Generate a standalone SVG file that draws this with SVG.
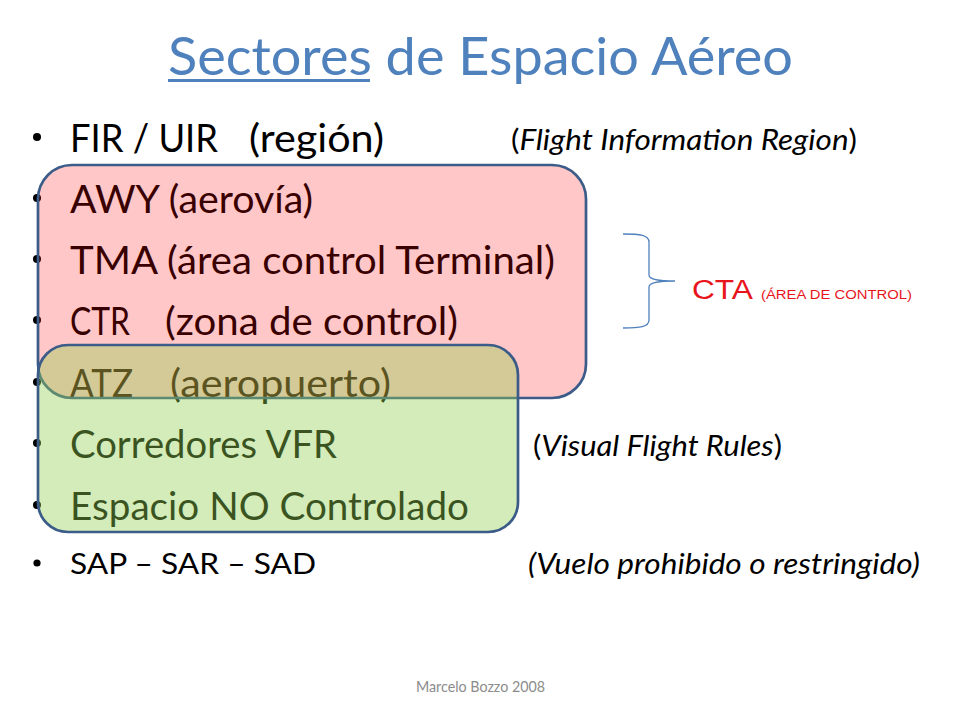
<svg xmlns="http://www.w3.org/2000/svg" width="960" height="720" viewBox="0 0 960 720">
<style>
.t{font-family:Lato,"Open Sans","Noto Sans",sans-serif;fill:#000}
.b{font-size:38px}
.s{font-size:29px}
.i{font-style:italic}
.ttl{font-family:Lato,"Open Sans","Noto Sans",sans-serif;font-size:53px;fill:#4F81BD}
.cta{font-family:"Liberation Sans",Arial,sans-serif;fill:#E8141B}
.box{stroke:#3B5C88;stroke-width:2.7}
.dot{fill:#000}
</style>
<rect width="960" height="720" fill="#FFFFFF"/>
<g id="title">
<text class="ttl" x="168" y="75" textLength="625" lengthAdjust="spacingAndGlyphs">Sectores de Espacio Aéreo</text>
<line x1="168" y1="80.5" x2="370" y2="80.5" stroke="#4F81BD" stroke-width="3"/>
</g>
<g id="bullets">
<circle class="dot" cx="37" cy="137" r="4"/>
<circle class="dot" cx="37" cy="198" r="4"/>
<circle class="dot" cx="37" cy="259" r="4"/>
<circle class="dot" cx="37" cy="320" r="4"/>
<circle class="dot" cx="37" cy="382" r="4"/>
<circle class="dot" cx="37" cy="443" r="4"/>
<circle class="dot" cx="37" cy="505" r="4"/>
<circle class="dot" cx="37" cy="563" r="3.6"/>
</g>
<g id="items">
<text class="t b" x="70" y="152" textLength="148" lengthAdjust="spacingAndGlyphs">FIR / UIR</text>
<text class="t b" x="249" y="152" textLength="135" lengthAdjust="spacingAndGlyphs">(región)</text>
<text class="t s" x="511" y="150" textLength="346" lengthAdjust="spacingAndGlyphs">(<tspan class="i">Flight Information Region</tspan>)</text>
<text class="t b" x="70" y="213" textLength="243" lengthAdjust="spacingAndGlyphs">AWY (aerovía)</text>
<text class="t b" x="70" y="274" textLength="485" lengthAdjust="spacingAndGlyphs">TMA (área control Terminal)</text>
<text class="t b" x="70" y="335" textLength="60" lengthAdjust="spacingAndGlyphs">CTR</text>
<text class="t b" x="165" y="335" textLength="293" lengthAdjust="spacingAndGlyphs">(zona de control)</text>
<text class="t b" x="70" y="397" textLength="63" lengthAdjust="spacingAndGlyphs">ATZ</text>
<text class="t b" x="170" y="397" textLength="221" lengthAdjust="spacingAndGlyphs">(aeropuerto)</text>
<text class="t b" x="70" y="458" textLength="267" lengthAdjust="spacingAndGlyphs">Corredores VFR</text>
<text class="t s" x="533" y="456" textLength="249" lengthAdjust="spacingAndGlyphs">(<tspan class="i">Visual Flight Rules</tspan>)</text>
<text class="t b" x="70" y="520" textLength="399" lengthAdjust="spacingAndGlyphs">Espacio NO Controlado</text>
<text class="t s" x="70" y="574" textLength="246" lengthAdjust="spacingAndGlyphs">SAP – SAR – SAD</text>
<text class="t s i" x="528" y="574" textLength="392" lengthAdjust="spacingAndGlyphs">(Vuelo prohibido o restringido)</text>
</g>
<g id="cta-zone">
<rect class="box" x="38" y="165" width="548" height="233" rx="34" ry="34" fill="#FF0000" fill-opacity="0.22"/>
</g>
<g id="uncontrolled-zone">
<rect class="box" x="38" y="345" width="480" height="187" rx="30" ry="30" fill="#92D050" fill-opacity="0.4"/>
</g>
<g id="connectors">
<path d="M623,234 C640,234 649,235 649,242 L649,275 C649,280 660,281 675,281 C660,281 649,282 649,287 L649,320 C649,327 640,328 623,328" fill="none" stroke="#4F81BD" stroke-width="1.3"/>
</g>
<g id="cta-label">
<text class="cta" x="692" y="299" font-size="27" textLength="61" lengthAdjust="spacingAndGlyphs">CTA</text>
<text class="cta" x="761" y="299" font-size="12.5" textLength="151" lengthAdjust="spacingAndGlyphs">(ÁREA DE CONTROL)</text>
</g>
<g id="footer">
<text x="416" y="692" font-family="Lato,'Open Sans',sans-serif" font-size="15" fill="#8C8C8C" textLength="129" lengthAdjust="spacingAndGlyphs">Marcelo Bozzo 2008</text>
</g>
</svg>
